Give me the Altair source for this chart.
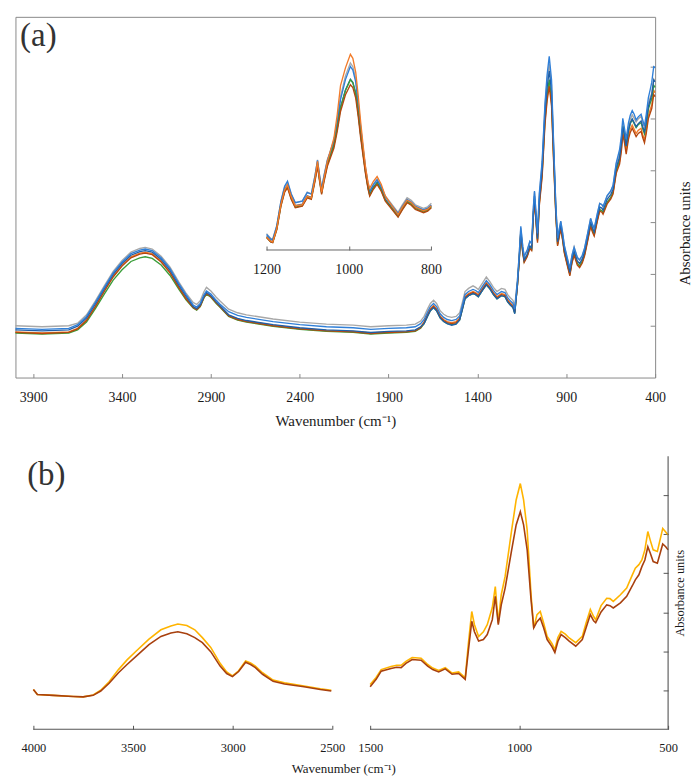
import altair as alt
import pandas as pd

FONT = "Liberation Serif"
TXT = "#1a1a1a"
FRAME_A = "#8a8a8a"
AXIS_B = "#555555"

# ---------------- Panel (a): full spectra ----------------
wn_a = [4000, 3850, 3700, 3650, 3600, 3550, 3500, 3450, 3400, 3350,
        3300, 3270, 3230, 3180, 3130, 3080, 3040, 3000, 2980, 2960,
        2940, 2925, 2900, 2870, 2850, 2800, 2750, 2700, 2550, 2400,
        2250, 2100, 2000, 1900, 1800, 1750, 1720, 1700, 1680, 1665,
        1647, 1630, 1610, 1590, 1570, 1545, 1520, 1500, 1485, 1470,
        1450, 1425, 1410, 1395, 1370, 1350, 1330, 1310, 1290, 1265,
        1245, 1230, 1215, 1200, 1190, 1175, 1165, 1156, 1145, 1137,
        1120, 1105, 1095, 1085, 1079, 1070, 1062, 1052, 1036, 1020,
        1008, 996, 983, 971, 959, 949, 940, 931, 920, 911,
        895, 880, 868, 856, 838, 825, 810, 797, 780, 763,
        753, 743, 725, 712, 700, 693, 670, 650, 637, 619,
        600, 590, 582, 572, 563, 550, 540, 529, 518, 507,
        495, 479, 470, 460, 450, 438, 428, 419, 408, 400]

a_gray = [1.00, 0.98, 1.00, 1.05, 1.21, 1.48, 1.77, 2.05, 2.26, 2.42,
          2.49, 2.51, 2.48, 2.34, 2.13, 1.84, 1.63, 1.45, 1.41, 1.48,
          1.65, 1.74, 1.67, 1.55, 1.48, 1.32, 1.25, 1.21, 1.13, 1.07,
          1.03, 1.01, 0.98, 1.00, 1.01, 1.03, 1.09, 1.18, 1.33, 1.43,
          1.49, 1.43, 1.29, 1.22, 1.18, 1.16, 1.18, 1.25, 1.45, 1.66,
          1.72, 1.77, 1.74, 1.70, 1.83, 1.94, 1.85, 1.74, 1.66, 1.72,
          1.70, 1.60, 1.54, 1.49, 1.38, 1.88, 2.37, 2.89, 2.52, 2.34,
          2.45, 2.62, 2.58, 3.28, 3.58, 3.15, 2.76, 3.50, 4.12, 5.23,
          5.74, 6.06, 5.64, 4.44, 3.33, 2.68, 2.85, 3.01, 2.77, 2.54,
          2.30, 2.09, 2.35, 2.52, 2.31, 2.26, 2.35, 2.49, 2.77, 3.07,
          2.95, 2.87, 3.16, 3.36, 3.33, 3.29, 3.50, 3.59, 3.70, 4.12,
          4.32, 4.58, 4.92, 4.75, 4.55, 4.84, 4.98, 5.07, 5.00, 4.93,
          4.99, 5.04, 4.92, 4.83, 5.00, 5.30, 5.40, 5.49, 5.76, 5.72]

a_blue = [0.95, 0.93, 0.95, 1.02, 1.18, 1.45, 1.74, 2.02, 2.23, 2.39,
          2.46, 2.48, 2.45, 2.31, 2.10, 1.81, 1.60, 1.40, 1.36, 1.43,
          1.59, 1.67, 1.61, 1.49, 1.42, 1.27, 1.20, 1.16, 1.08, 1.02,
          0.98, 0.96, 0.93, 0.95, 0.96, 0.98, 1.04, 1.12, 1.27, 1.37,
          1.43, 1.37, 1.23, 1.16, 1.12, 1.10, 1.12, 1.19, 1.39, 1.60,
          1.66, 1.70, 1.68, 1.64, 1.77, 1.87, 1.79, 1.68, 1.60, 1.66,
          1.64, 1.54, 1.48, 1.43, 1.32, 1.87, 2.38, 2.92, 2.53, 2.34,
          2.46, 2.63, 2.59, 3.30, 3.60, 3.16, 2.78, 3.55, 4.17, 5.28,
          5.84, 6.20, 5.74, 4.49, 3.33, 2.69, 2.86, 3.02, 2.78, 2.55,
          2.32, 2.11, 2.36, 2.51, 2.32, 2.27, 2.36, 2.50, 2.78, 3.07,
          2.96, 2.88, 3.17, 3.36, 3.34, 3.30, 3.51, 3.60, 3.71, 4.14,
          4.40, 4.67, 5.00, 4.80, 4.60, 4.92, 5.06, 5.15, 5.08, 4.97,
          5.03, 5.08, 4.97, 4.85, 5.08, 5.40, 5.55, 5.70, 6.00, 5.98]

a_darkblue = [0.92, 0.90, 0.92, 0.99, 1.15, 1.42, 1.71, 1.99, 2.20, 2.36,
              2.43, 2.45, 2.42, 2.28, 2.07, 1.78, 1.57, 1.37, 1.33, 1.40,
              1.56, 1.64, 1.58, 1.46, 1.39, 1.21, 1.14, 1.10, 1.02, 0.96,
              0.92, 0.90, 0.87, 0.89, 0.90, 0.92, 0.98, 1.04, 1.19, 1.29,
              1.35, 1.29, 1.15, 1.08, 1.04, 1.01, 1.03, 1.11, 1.31, 1.52,
              1.58, 1.62, 1.60, 1.56, 1.69, 1.79, 1.71, 1.60, 1.52, 1.58,
              1.56, 1.46, 1.40, 1.35, 1.23, 1.79, 2.29, 2.82, 2.45, 2.27,
              2.38, 2.54, 2.50, 3.20, 3.50, 3.06, 2.68, 3.42, 4.02, 5.10,
              5.60, 5.92, 5.52, 4.36, 3.25, 2.62, 2.79, 2.95, 2.71, 2.48,
              2.25, 2.03, 2.29, 2.44, 2.25, 2.20, 2.29, 2.43, 2.71, 3.00,
              2.89, 2.81, 3.10, 3.29, 3.27, 3.23, 3.44, 3.53, 3.63, 4.05,
              4.25, 4.51, 4.84, 4.67, 4.47, 4.77, 4.91, 4.99, 4.92, 4.84,
              4.90, 4.95, 4.84, 4.74, 4.93, 5.23, 5.35, 5.46, 5.74, 5.71]

a_orange = [0.88, 0.86, 0.88, 0.95, 1.11, 1.38, 1.68, 1.96, 2.17, 2.33,
            2.40, 2.42, 2.39, 2.25, 2.04, 1.75, 1.54, 1.36, 1.32, 1.39,
            1.55, 1.63, 1.57, 1.45, 1.38, 1.20, 1.13, 1.09, 1.01, 0.95,
            0.91, 0.89, 0.86, 0.88, 0.89, 0.91, 0.97, 1.08, 1.23, 1.33,
            1.39, 1.33, 1.19, 1.12, 1.08, 1.06, 1.08, 1.15, 1.35, 1.56,
            1.62, 1.66, 1.64, 1.60, 1.73, 1.83, 1.75, 1.64, 1.56, 1.62,
            1.60, 1.50, 1.44, 1.39, 1.28, 1.79, 2.28, 2.81, 2.43, 2.25,
            2.36, 2.52, 2.48, 3.16, 3.44, 3.02, 2.64, 3.35, 3.92, 4.94,
            5.40, 5.68, 5.30, 4.19, 3.17, 2.57, 2.74, 2.90, 2.66, 2.43,
            2.20, 1.99, 2.24, 2.39, 2.20, 2.15, 2.24, 2.38, 2.66, 2.95,
            2.84, 2.76, 3.05, 3.24, 3.22, 3.18, 3.38, 3.47, 3.57, 3.98,
            4.17, 4.42, 4.75, 4.58, 4.37, 4.66, 4.79, 4.87, 4.79, 4.71,
            4.77, 4.81, 4.69, 4.59, 4.77, 5.06, 5.17, 5.26, 5.54, 5.50]

a_green = [0.86, 0.84, 0.86, 0.92, 1.07, 1.33, 1.61, 1.88, 2.08, 2.24,
           2.31, 2.33, 2.30, 2.17, 1.97, 1.70, 1.50, 1.34, 1.30, 1.37,
           1.53, 1.61, 1.55, 1.43, 1.36, 1.18, 1.11, 1.07, 0.99, 0.93,
           0.89, 0.87, 0.84, 0.86, 0.87, 0.89, 0.95, 1.04, 1.19, 1.29,
           1.35, 1.29, 1.15, 1.08, 1.04, 1.02, 1.04, 1.11, 1.31, 1.52,
           1.58, 1.62, 1.60, 1.56, 1.69, 1.79, 1.71, 1.60, 1.52, 1.58,
           1.56, 1.46, 1.40, 1.35, 1.24, 1.78, 2.27, 2.79, 2.42, 2.24,
           2.35, 2.51, 2.47, 3.16, 3.45, 3.03, 2.65, 3.38, 3.96, 4.99,
           5.46, 5.75, 5.36, 4.24, 3.19, 2.57, 2.74, 2.90, 2.66, 2.43,
           2.20, 1.99, 2.24, 2.39, 2.20, 2.15, 2.24, 2.38, 2.66, 2.95,
           2.84, 2.76, 3.05, 3.24, 3.22, 3.18, 3.38, 3.47, 3.58, 3.99,
           4.22, 4.50, 4.85, 4.68, 4.46, 4.76, 4.90, 4.98, 4.90, 4.82,
           4.88, 4.92, 4.80, 4.70, 4.88, 5.18, 5.29, 5.38, 5.64, 5.60]

a_brown = [0.87, 0.85, 0.87, 0.94, 1.10, 1.37, 1.66, 1.94, 2.15, 2.31,
           2.38, 2.40, 2.37, 2.23, 2.02, 1.73, 1.52, 1.35, 1.31, 1.38,
           1.54, 1.62, 1.56, 1.44, 1.37, 1.19, 1.12, 1.08, 1.00, 0.94,
           0.90, 0.88, 0.85, 0.87, 0.88, 0.90, 0.96, 1.06, 1.21, 1.31,
           1.37, 1.31, 1.17, 1.10, 1.06, 1.04, 1.06, 1.13, 1.33, 1.54,
           1.60, 1.64, 1.62, 1.58, 1.71, 1.81, 1.73, 1.62, 1.54, 1.60,
           1.58, 1.48, 1.42, 1.37, 1.26, 1.77, 2.25, 2.77, 2.40, 2.22,
           2.33, 2.49, 2.45, 3.12, 3.40, 2.98, 2.60, 3.31, 3.87, 4.88,
           5.34, 5.62, 5.24, 4.14, 3.13, 2.54, 2.71, 2.87, 2.63, 2.40,
           2.17, 1.96, 2.21, 2.36, 2.17, 2.12, 2.21, 2.35, 2.63, 2.92,
           2.81, 2.73, 3.02, 3.21, 3.19, 3.15, 3.35, 3.44, 3.54, 3.94,
           4.12, 4.37, 4.69, 4.52, 4.31, 4.60, 4.73, 4.81, 4.73, 4.65,
           4.71, 4.75, 4.63, 4.53, 4.71, 5.00, 5.10, 5.19, 5.46, 5.42]

# ---------------- Panel (a) inset: 1200-800 cm-1 ----------------
wn_inset = [1200, 1190, 1185, 1175, 1165, 1156, 1149, 1140, 1130, 1113,
            1101, 1091, 1082, 1076, 1071, 1066, 1060, 1052, 1045, 1036,
            1028, 1020, 1008, 996, 990, 983, 977, 971, 965, 959,
            953, 949, 940, 931, 921, 911, 895, 880, 870, 858,
            848, 838, 818, 808, 799]

i_gray = [0.82, 0.58, 0.55, 1.22, 2.42, 3.15, 3.38, 2.80, 2.37, 2.46,
          2.90, 2.82, 3.75, 4.52, 3.76, 3.10, 3.77, 4.53, 4.95, 5.52,
          6.50, 7.70, 8.74, 9.39, 9.20, 8.57, 7.45, 6.17, 5.10, 4.09,
          3.32, 2.96, 3.31, 3.56, 3.21, 2.71, 2.29, 1.89, 2.25, 2.62,
          2.49, 2.27, 2.09, 2.17, 2.34]
i_blue = [0.78, 0.55, 0.52, 1.22, 2.45, 3.20, 3.45, 2.82, 2.37, 2.45,
          2.88, 2.80, 3.73, 4.50, 3.73, 3.06, 3.73, 4.50, 4.92, 5.48,
          6.40, 7.55, 8.55, 9.21, 9.03, 8.42, 7.32, 6.12, 5.07, 4.08,
          3.30, 2.93, 3.28, 3.52, 3.17, 2.66, 2.23, 1.83, 2.18, 2.54,
          2.41, 2.20, 2.02, 2.10, 2.26]
i_darkblue = [0.68, 0.46, 0.43, 1.11, 2.30, 3.02, 3.25, 2.66, 2.22, 2.30,
              2.72, 2.64, 3.57, 4.33, 3.57, 2.90, 3.57, 4.33, 4.74, 5.28,
              6.13, 7.16, 8.03, 8.57, 8.42, 7.87, 6.91, 5.80, 4.85, 3.90,
              3.15, 2.80, 3.16, 3.40, 3.05, 2.54, 2.13, 1.73, 2.09, 2.46,
              2.34, 2.13, 1.96, 2.04, 2.21]
i_orange = [0.66, 0.44, 0.41, 1.10, 2.30, 3.02, 3.27, 2.68, 2.22, 2.28,
            2.70, 2.62, 3.62, 4.45, 3.62, 2.90, 3.62, 4.45, 4.95, 5.62,
            6.80, 8.25, 9.14, 9.82, 9.62, 8.92, 7.75, 6.42, 5.25, 4.14,
            3.38, 3.10, 3.45, 3.69, 3.30, 2.70, 2.22, 1.78, 2.14, 2.50,
            2.38, 2.16, 1.97, 2.05, 2.22]
i_green = [0.64, 0.41, 0.38, 1.05, 2.23, 2.94, 3.17, 2.59, 2.15, 2.23,
           2.66, 2.58, 3.52, 4.29, 3.52, 2.84, 3.52, 4.29, 4.70, 5.24,
           6.10, 7.13, 8.00, 8.54, 8.39, 7.84, 6.88, 5.77, 4.82, 3.87,
           3.11, 2.75, 3.11, 3.35, 3.00, 2.49, 2.08, 1.68, 2.04, 2.41,
           2.29, 2.08, 1.91, 1.99, 2.16]
i_brown = [0.62, 0.40, 0.37, 1.03, 2.20, 2.90, 3.12, 2.55, 2.12, 2.20,
           2.62, 2.54, 3.45, 4.20, 3.45, 2.79, 3.45, 4.20, 4.60, 5.12,
           5.95, 6.95, 7.79, 8.29, 8.15, 7.62, 6.70, 5.62, 4.70, 3.79,
           3.05, 2.70, 3.05, 3.29, 2.95, 2.45, 2.04, 1.65, 2.00, 2.37,
           2.25, 2.04, 1.87, 1.95, 2.12]

# ---------------- Panel (b): two spectra, broken axis ----------------
wn_b_left = [4000, 3980, 3900, 3800, 3750, 3700, 3662, 3620, 3573, 3530,
             3485, 3420, 3360, 3310, 3275, 3230, 3190, 3152, 3110, 3063,
             3030, 3001, 2970, 2935, 2910, 2886, 2850, 2797, 2740, 2642,
             2560, 2505]
bl_yellow = [1.02, 0.89, 0.87, 0.84, 0.83, 0.88, 1.00, 1.22, 1.53, 1.78,
             2.00, 2.31, 2.55, 2.65, 2.70, 2.66, 2.55, 2.35, 2.10, 1.69,
             1.47, 1.37, 1.50, 1.75, 1.70, 1.62, 1.45, 1.26, 1.19, 1.11,
             1.04, 1.00]
bl_brown = [1.02, 0.89, 0.87, 0.84, 0.83, 0.87, 0.98, 1.18, 1.45, 1.66,
            1.87, 2.17, 2.38, 2.47, 2.50, 2.45, 2.35, 2.22, 1.99, 1.62,
            1.43, 1.35, 1.48, 1.72, 1.66, 1.58, 1.41, 1.23, 1.16, 1.09,
            1.02, 0.98]

wn_b_right = [1500, 1480, 1463, 1430, 1411, 1396, 1380, 1359, 1329, 1307,
              1290, 1270, 1248, 1225, 1203, 1181, 1170, 1159, 1150, 1136,
              1120, 1107, 1090, 1080, 1070, 1060, 1047, 1025, 1010, 996,
              985, 973, 960, 951, 940, 929, 918, 906, 890, 880,
              870, 859, 845, 832, 810, 788, 775, 761, 750, 743,
              725, 706, 695, 684, 660, 639, 620, 610, 598, 588,
              578, 568, 560, 550, 536, 518, 508, 500]
br_yellow = [1.15, 1.33, 1.53, 1.61, 1.64, 1.64, 1.74, 1.84, 1.82, 1.66,
             1.57, 1.51, 1.58, 1.44, 1.47, 1.32, 2.22, 3.02, 2.68, 2.38,
             2.50, 2.68, 3.12, 3.66, 2.73, 3.45, 3.92, 5.11, 5.88, 6.30,
             5.88, 5.11, 3.45, 2.60, 2.94, 3.02, 2.73, 2.38, 2.20, 2.04,
             2.35, 2.51, 2.44, 2.34, 2.22, 2.38, 2.73, 3.07, 2.89, 2.81,
             3.17, 3.36, 3.35, 3.28, 3.45, 3.62, 3.96, 4.13, 4.22, 4.34,
             4.60, 5.07, 4.85, 4.60, 4.56, 5.15, 5.06, 4.98]
br_brown = [1.09, 1.28, 1.49, 1.56, 1.59, 1.58, 1.69, 1.79, 1.77, 1.62,
            1.53, 1.47, 1.55, 1.41, 1.43, 1.28, 2.04, 2.77, 2.50, 2.26,
            2.30, 2.43, 2.81, 3.41, 2.68, 3.19, 3.62, 4.60, 5.24, 5.58,
            5.24, 4.60, 3.32, 2.60, 2.76, 2.85, 2.61, 2.30, 2.12, 1.97,
            2.25, 2.43, 2.35, 2.26, 2.13, 2.30, 2.61, 2.94, 2.78, 2.73,
            3.01, 3.19, 3.17, 3.11, 3.24, 3.41, 3.68, 3.83, 3.96, 4.17,
            4.34, 4.68, 4.52, 4.30, 4.26, 4.75, 4.68, 4.60]

ticks_a = [3900, 3400, 2900, 2400, 1900, 1400, 900, 400]
ticks_inset = [1200, 1000, 800]
ticks_b_left = [4000, 3500, 3000, 2500]
ticks_b_right = [1500, 1000, 500]
abs_ticks = [1, 2, 3, 4, 5, 6]


def long_df(wn, series):
    rows = []
    for name, vals in series.items():
        for w, v in zip(wn, vals):
            rows.append({"wavenumber": w, "absorbance": v, "sample": name})
    return pd.DataFrame(rows)


def axis_path(points):
    # polyline through axis corner points (wavenumber, absorbance), in drawing order
    return pd.DataFrame({"wavenumber": [p[0] for p in points],
                         "absorbance": [p[1] for p in points],
                         "step": list(range(len(points)))})


df_a = long_df(wn_a, {"S1": a_gray, "S2": a_blue, "S3": a_orange,
                      "S4": a_darkblue, "S5": a_green, "S6": a_brown})
df_i = long_df(wn_inset, {"S1": i_gray, "S2": i_blue, "S3": i_orange,
                          "S4": i_darkblue, "S5": i_green, "S6": i_brown})
df_bl = long_df(wn_b_left, {"B1": bl_yellow, "B2": bl_brown})
df_br = long_df(wn_b_right, {"B1": br_yellow, "B2": br_brown})

colors_a = {"S1": "#a8a8a8", "S2": "#2f7fd8", "S3": "#f27b2a",
            "S4": "#1f5fa8", "S5": "#3a9e3a", "S6": "#b5470f"}
order_a = ["S1", "S3", "S5", "S6", "S4", "S2"]
order_i = ["S1", "S2", "S4", "S5", "S6", "S3"]
colors_b = {"B1": "#ffb400", "B2": "#a8400e"}
order_b = ["B1", "B2"]

label_style = dict(labelFont=FONT, labelColor=TXT, labelFlush=False,
                   labelOverlap=False, format="d")
title_style = dict(titleFont=FONT, titleColor=TXT, titleFontWeight="normal")

# ---- main (a) ----
W_A, H_A = 642, 362
x_main = alt.X("wavenumber:Q",
               scale=alt.Scale(domain=[400, 4000], reverse=True, nice=False, zero=False),
               axis=alt.Axis(orient="bottom", values=ticks_a, offset=-4, domain=False,
                             grid=False, tickSize=4, tickColor=FRAME_A,
                             labelFontSize=14, labelPadding=13,
                             title="Wavenumber (cm⁻¹)", titleFontSize=15,
                             titleBaseline="alphabetic", titleY=52,
                             **label_style, **title_style))
y_main = alt.Y("absorbance:Q",
               scale=alt.Scale(domain=[0, 6.96], nice=False, zero=False),
               axis=alt.Axis(orient="right", values=abs_ticks, offset=-5, domain=False,
                             grid=False, tickSize=5, tickColor=FRAME_A, labels=False,
                             title="Absorbance units", titleFontSize=15,
                             titleAngle=270, titleAlign="center", titleBaseline="middle",
                             titleX=34, titleY=217, **title_style))

main_lines = [
    alt.Chart(df_a).transform_filter(alt.datum.sample == s)
    .mark_line(color=colors_a[s], strokeWidth=1.35)
    .encode(x=x_main, y=y_main)
    for s in order_a
]
lab_a = alt.Chart(pd.DataFrame({"panel": ["(a)"]})).mark_text(
    font=FONT, fontSize=33, color="#333333", align="center", baseline="middle"
).encode(x=alt.value(23), y=alt.value(19), text="panel:N")
main_layer = alt.layer(*main_lines, lab_a)

# ---- inset ----
x_in = alt.X("wavenumber:Q",
             scale=alt.Scale(domain=[800, 1200], range=[417, 252], nice=False, zero=False),
             axis=alt.Axis(orient="bottom", values=ticks_inset, offset=-132, domain=False,
                           grid=False, tickSize=4, tickColor="#666666",
                           labelFontSize=14, labelPadding=13, title=None, **label_style))
y_in = alt.Y("absorbance:Q",
             scale=alt.Scale(domain=[0, 10], range=[234, 34], nice=False, zero=False),
             axis=None)
inset_lines = [
    alt.Chart(df_i).transform_filter(alt.datum.sample == s)
    .mark_line(color=colors_a[s], strokeWidth=1.35)
    .encode(x=x_in, y=y_in)
    for s in order_i
]
inset_axis_line = alt.Chart(axis_path([(1200, 0), (800, 0)])).mark_line(
    color="#666666", strokeWidth=1, clip=False
).encode(x=x_in, y=y_in, order="step:Q")
inset_layer = alt.layer(*inset_lines, inset_axis_line)

panel_a = alt.layer(main_layer, inset_layer).resolve_scale(
    x="independent", y="independent"
).properties(width=W_A, height=H_A,
             view=alt.ViewBackground(stroke=FRAME_A, strokeWidth=1))

# ---- panel (b): one view, two independent x segments ----
W_B, H_B = 655, 274
x_bl = alt.X("wavenumber:Q",
             scale=alt.Scale(domain=[2500, 4000], range=[318, 18], nice=False, zero=False),
             axis=alt.Axis(orient="bottom", values=ticks_b_left, offset=-4, domain=False,
                           grid=False, tickSize=4, tickColor=AXIS_B,
                           labelFontSize=12.5, labelPadding=12.5,
                           title="Wavenumber (cm⁻¹)", titleFontSize=13,
                           titleAlign="center", titleBaseline="alphabetic",
                           titleX=329, titleY=47, **label_style, **title_style))
x_br = alt.X("wavenumber:Q",
             scale=alt.Scale(domain=[500, 1500], range=[655, 356], nice=False, zero=False),
             axis=alt.Axis(orient="bottom", values=ticks_b_right, offset=-4, domain=False,
                           grid=False, tickSize=4, tickColor=AXIS_B,
                           labelFontSize=12.5, labelPadding=12.5, title=None,
                           **label_style))
y_b = alt.Y("absorbance:Q", scale=alt.Scale(domain=[0, 7], nice=False, zero=False),
            axis=alt.Axis(orient="right", values=abs_ticks, offset=-5, domain=False,
                          grid=False, tickSize=5, tickColor=AXIS_B, labels=False,
                          title="Absorbance units", titleFontSize=12.5,
                          titleAngle=270, titleAlign="center", titleBaseline="middle",
                          titleX=16.5, titleY=137, **title_style))

bl_lines = [
    alt.Chart(df_bl).transform_filter(alt.datum.sample == s)
    .mark_line(color=colors_b[s], strokeWidth=1.6)
    .encode(x=x_bl, y=y_b)
    for s in order_b
]
bl_axis_line = alt.Chart(axis_path([(4000, 0), (2500, 0)])).mark_line(
    color=AXIS_B, strokeWidth=1.1, clip=False
).encode(x=x_bl, y=y_b, order="step:Q")
lab_b = alt.Chart(pd.DataFrame({"panel": ["(b)"]})).mark_text(
    font=FONT, fontSize=33, color="#333333", align="center", baseline="middle"
).encode(x=alt.value(31), y=alt.value(19), text="panel:N")
left_b = alt.layer(*bl_lines, bl_axis_line, lab_b)

br_lines = [
    alt.Chart(df_br).transform_filter(alt.datum.sample == s)
    .mark_line(color=colors_b[s], strokeWidth=1.6)
    .encode(x=x_br, y=y_b)
    for s in order_b
]
br_axis_line = alt.Chart(axis_path([(1500, 0), (500, 0), (500, 7)])).mark_line(
    color=AXIS_B, strokeWidth=1.1, clip=False
).encode(x=x_br, y=y_b, order="step:Q")
right_b = alt.layer(*br_lines, br_axis_line)

panel_b = alt.layer(left_b, right_b).resolve_scale(x="independent").properties(
    width=W_B, height=H_B
)

chart = alt.vconcat(panel_a, panel_b, spacing=79, bounds="flush").properties(
    padding={"left": 11.5, "top": 14.5, "right": 1, "bottom": 0}
).configure(font=FONT).configure_view(stroke="transparent")

chart.save("out.html", embed_options={"renderer": "svg", "actions": False})
